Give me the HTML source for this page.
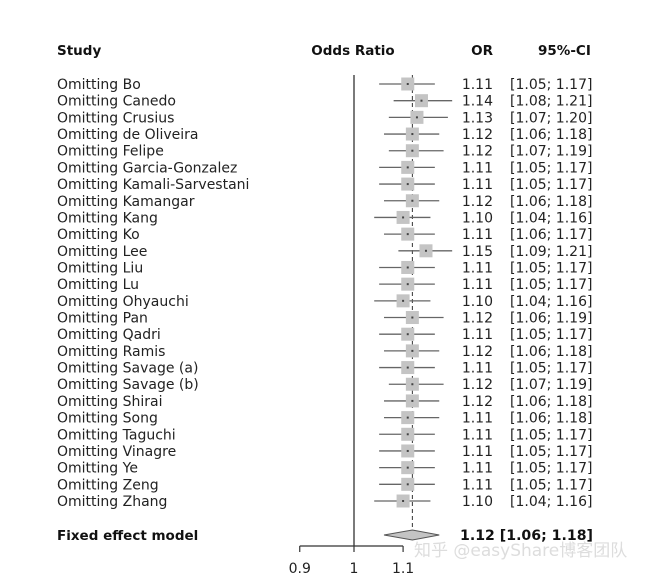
<!DOCTYPE html>
<html><head><meta charset="utf-8"><style>
html,body{margin:0;padding:0;background:#fff;}
svg{display:block;font-family:"DejaVu Sans","Liberation Sans",sans-serif;}
</style></head><body>
<svg id="chart" width="655" height="581" viewBox="0 0 655 581">
<text x="57" y="55" font-size="13.5" font-weight="bold" fill="#111">Study</text>
<text x="353" y="55" font-size="13.5" font-weight="bold" fill="#111" text-anchor="middle">Odds Ratio</text>
<text x="493" y="55" font-size="13.5" font-weight="bold" fill="#111" text-anchor="end">OR</text>
<text x="538" y="55" font-size="13.5" font-weight="bold" fill="#111">95%-CI</text>
<g id="marks"></g>
<text x="414" y="556" font-size="17" fill="#ddd">知乎 @easyShare博客团队</text>
</svg>
<script>
const studies=["Bo","Canedo","Crusius","de Oliveira","Felipe","Garcia-Gonzalez","Kamali-Sarvestani","Kamangar","Kang","Ko","Lee","Liu","Lu","Ohyauchi","Pan","Qadri","Ramis","Savage (a)","Savage (b)","Shirai","Song","Taguchi","Vinagre","Ye","Zeng","Zhang"];
const orVals=[1.11,1.14,1.13,1.12,1.12,1.11,1.11,1.12,1.10,1.11,1.15,1.11,1.11,1.10,1.12,1.11,1.12,1.11,1.12,1.12,1.11,1.11,1.11,1.11,1.11,1.10];
const lower=[1.05,1.08,1.07,1.06,1.07,1.05,1.05,1.06,1.04,1.06,1.09,1.05,1.05,1.04,1.06,1.05,1.06,1.05,1.07,1.06,1.06,1.05,1.05,1.05,1.05,1.04];
const upper=[1.17,1.21,1.20,1.18,1.19,1.17,1.17,1.18,1.16,1.17,1.21,1.17,1.17,1.16,1.19,1.17,1.18,1.17,1.19,1.18,1.18,1.17,1.17,1.17,1.17,1.16];
const pooled=[1.12,1.06,1.18];
const ticks=[0.9,1,1.1];
const NS="http://www.w3.org/2000/svg";
const g=document.getElementById('marks');
const xS=v=>354+515*Math.log(v);
const yS=i=>84+i*16.68;
const FS=14;
function mk(t,a){const e=document.createElementNS(NS,t);for(const k in a)e.setAttribute(k,a[k]);g.appendChild(e);return e;}
let e=mk('line',{x1:354,x2:354,y1:75,y2:546,stroke:'#222','stroke-width':1.2});


e=mk('line',{x1:xS(pooled[0]),x2:xS(pooled[0]),y1:75,y2:530,stroke:'#333','stroke-width':1,'stroke-dasharray':'4,3'});


studies.forEach((s,i)=>{
  const y=yS(i);
  let t=mk('text',{x:57,y:y+5,'font-size':FS,fill:'#222'});t.textContent='Omitting '+s;
  
  
  let l=mk('line',{x1:xS(lower[i]),x2:xS(upper[i]),y1:y,y2:y,stroke:'#666','stroke-width':1.3});
  
  
  const cx=xS(orVals[i]);
  let r=mk('rect',{x:cx-6.5,y:y-6.5,width:13,height:13,fill:'#c4c4c4'});
  
  
  let p=mk('rect',{x:cx-1,y:y-1,width:2,height:2,fill:'#444'});
  
  
  let o=mk('text',{x:493,y:y+5,'font-size':FS,fill:'#222','text-anchor':'end'});o.textContent=orVals[i].toFixed(2);
  
  
  let c=mk('text',{x:510,y:y+5,'font-size':FS,fill:'#222'});c.textContent='['+lower[i].toFixed(2)+'; '+upper[i].toFixed(2)+']';
  
  
});
const yd=535;
let ft=mk('text',{x:57,y:yd+5,'font-size':13.5,'font-weight':'bold',fill:'#111'});ft.textContent='Fixed effect model';


let dm=mk('polygon',{points:`${xS(pooled[1])},${yd} ${xS(pooled[0])},${yd-5} ${xS(pooled[2])},${yd} ${xS(pooled[0])},${yd+5}`,fill:'#c4c4c4',stroke:'#555','stroke-width':1});


let pt=mk('text',{x:460,y:yd+5,'font-size':14,'font-weight':'bold',fill:'#111',textLength:133,lengthAdjust:'spacingAndGlyphs'});
pt.textContent=pooled[0].toFixed(2)+' ['+pooled[1].toFixed(2)+'; '+pooled[2].toFixed(2)+']';


let ax=mk('line',{x1:xS(ticks[0]),x2:xS(ticks[ticks.length-1]),y1:546,y2:546,stroke:'#333','stroke-width':1.2});


ticks.forEach(v=>{
  let tk=mk('line',{x1:xS(v),x2:xS(v),y1:546,y2:552,stroke:'#333','stroke-width':1.2});
  
  
  let tl=mk('text',{x:xS(v),y:573,'font-size':14,fill:'#222','text-anchor':'middle'});tl.textContent=String(v);
  
  
});
</script>
</body></html>
